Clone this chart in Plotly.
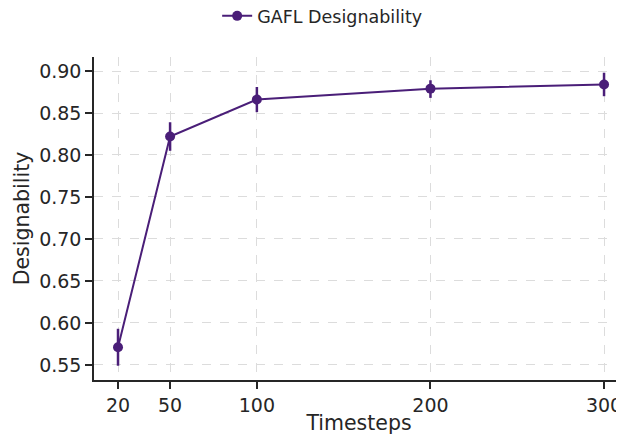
import plotly.graph_objects as go

timesteps = [20, 50, 100, 200, 300]
designability = [0.571, 0.822, 0.866, 0.879, 0.884]
err_plus = [0.022, 0.017, 0.015, 0.010, 0.014]
err_minus = [0.022, 0.017, 0.015, 0.011, 0.014]
y_ticks = [0.55, 0.60, 0.65, 0.70, 0.75, 0.80, 0.85, 0.90]

color = "#4a1e78"
text_color = "#262626"
font = "DejaVu Sans"

fig = go.Figure()
fig.add_trace(go.Scatter(
    x=timesteps, y=designability, mode="lines+markers",
    name="GAFL Designability",
    line=dict(color=color, width=2),
    marker=dict(color=color, size=10),
    error_y=dict(type="data", symmetric=False, array=err_plus, arrayminus=err_minus,
                 color=color, thickness=2.5, width=0),
))

# page body has an 8px margin, so the figure is 8px smaller than the window
fig.update_layout(
    width=616, height=427,
    margin=dict(l=86, r=0, t=49, b=55, autoexpand=False),
    paper_bgcolor="white", plot_bgcolor="white",
    font=dict(family=font, color=text_color, size=18),
    showlegend=True,
    legend=dict(orientation="h", xref="container",
                x=0.51, xanchor="center", y=1.127, yanchor="middle",
                font=dict(size=17.5, family=font, color=text_color),
                bgcolor="rgba(0,0,0,0)"),
)
fig.update_xaxes(
    range=[6.17, 311.5], tickvals=timesteps, ticktext=[str(t) for t in timesteps],
    showline=True, linecolor=text_color, linewidth=1.5, mirror=False,
    ticks="outside", ticklen=7, tickwidth=1.5, tickcolor=text_color,
    showgrid=True, gridcolor="#dcdcdc", griddash="dash", gridwidth=1,
    zeroline=False, automargin=False,
    title=dict(text="Timesteps", font=dict(size=20.5), standoff=2),
    tickfont=dict(size=19),
)
fig.update_yaxes(
    range=[0.532, 0.9167], tickvals=y_ticks, ticktext=[f"{v:.2f}" for v in y_ticks],
    showline=True, linecolor=text_color, linewidth=1.5, mirror=False,
    ticks="outside", ticklen=7, tickwidth=1.5, tickcolor=text_color,
    showgrid=True, gridcolor="#dcdcdc", griddash="dash", gridwidth=1,
    zeroline=False, automargin=False,
    title=dict(text="Designability", font=dict(size=20.5), standoff=4),
    tickfont=dict(size=19),
)

fig.write_html("out.html")
